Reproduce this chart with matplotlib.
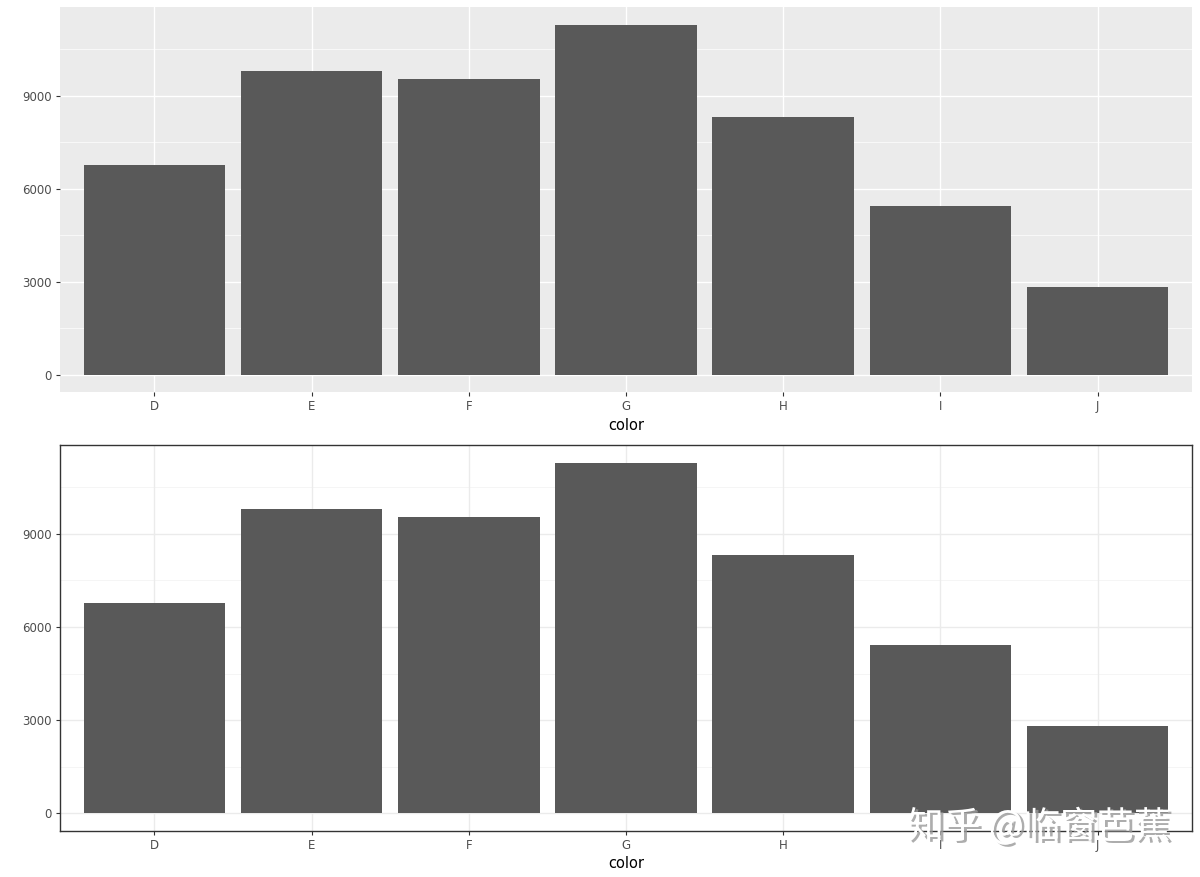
import matplotlib
matplotlib.use("Agg")
import matplotlib.pyplot as plt
import numpy as np

colors = ["D", "E", "F", "G", "H", "I", "J"]
counts = [6775, 9797, 9542, 11292, 8304, 5422, 2808]
yticks = [0, 3000, 6000, 9000]
yminor = [1500, 4500, 7500, 10500]

plt.rcParams['font.family'] = ['DejaVu Sans']

fig = plt.figure(figsize=(12, 8.77), dpi=100)


def draw_panel(ax, style):
    x = np.arange(1, len(colors) + 1)
    ymax = max(counts)
    ax.set_xlim(0.4, len(colors) + 0.6)
    ax.set_ylim(-0.05 * ymax, 1.05 * ymax)
    if style == "grey":
        ax.set_facecolor("#EBEBEB")
        major_col, minor_col = "white", "white"
        major_lw, minor_lw = 1.0, 0.5
        for s in ax.spines.values():
            s.set_visible(False)
    else:
        ax.set_facecolor("white")
        major_col, minor_col = "#EBEBEB", "#F2F2F2"
        major_lw, minor_lw = 1.0, 0.5
        for s in ax.spines.values():
            s.set_color("#333333")
            s.set_linewidth(1.0)
    for y in yminor:
        ax.axhline(y, color=minor_col, lw=minor_lw, zorder=0)
    for y in yticks:
        ax.axhline(y, color=major_col, lw=major_lw, zorder=0)
    for xi in x:
        ax.axvline(xi, color=major_col, lw=major_lw, zorder=0)
    ax.bar(x, counts, width=0.9, color="#595959", zorder=2)
    ax.set_xticks(x)
    ax.set_xticklabels(colors)
    ax.set_yticks(yticks)
    ax.tick_params(axis="both", colors="#333333", length=3, width=0.8,
                   labelsize=8.5, labelcolor="#4D4D4D", pad=3)
    ax.set_xlabel("color", fontsize=10.5, color="black", labelpad=3)


ax1 = fig.add_axes([0.05, 0.553, 0.9433, 0.439])
draw_panel(ax1, "grey")
ax2 = fig.add_axes([0.05, 0.0525, 0.9433, 0.440])
draw_panel(ax2, "bw")

# watermark
wm = "知乎 @临窗芭蕉"
fig.text(0.8680, 0.0535, wm, fontsize=26.5, color="#999999",
         family=["Noto Sans CJK SC", "DejaVu Sans"], ha="center", va="center", alpha=0.8)
fig.text(0.8655, 0.0565, wm, fontsize=26.5, color="white",
         family=["Noto Sans CJK SC", "DejaVu Sans"], ha="center", va="center")

fig.savefig("out.png", dpi=100)
